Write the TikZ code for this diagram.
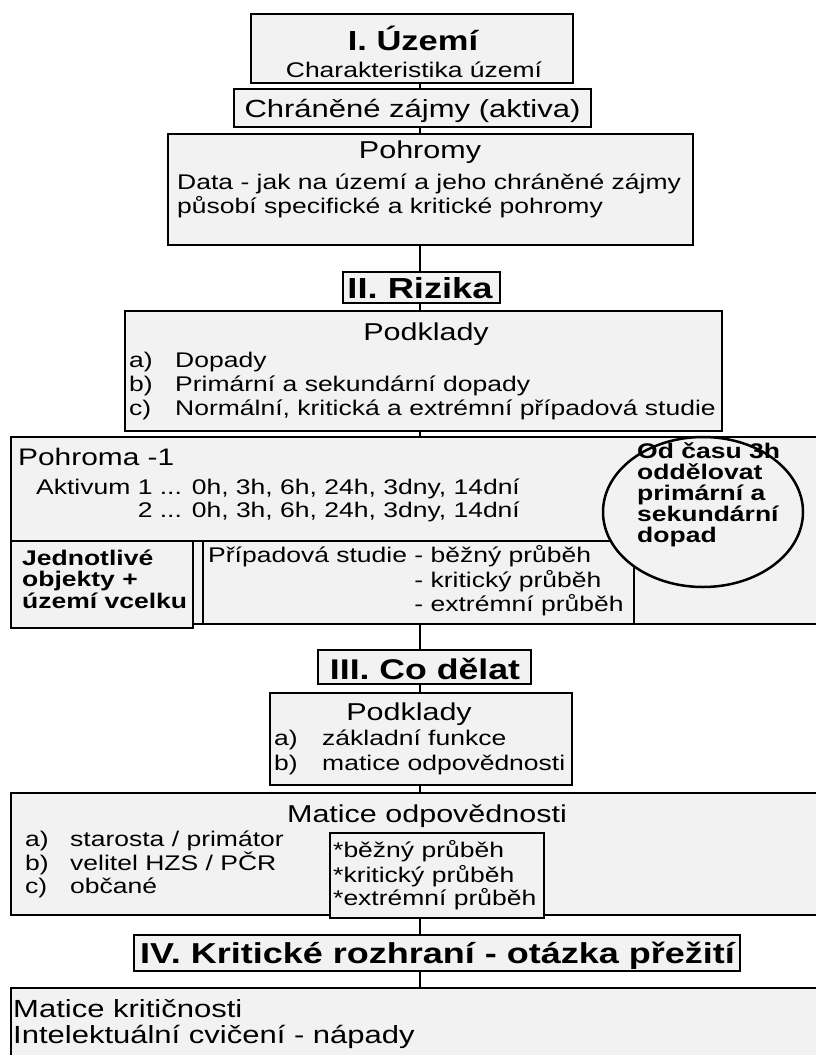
\documentclass[tikz,border=0pt]{standalone}
\usepackage{fontspec}
\setmainfont{Liberation Sans}[FakeStretch=1.25]
\usepackage{tikz}
\usetikzlibrary{calc}
\usetikzlibrary{shapes.geometric}
\definecolor{boxfill}{HTML}{F2F2F2}
\newcommand{\mkbox}[5]{\node[box, minimum width={(#4)-(#2)}, minimum height={(#5)-(#3)}] (#1) at (#2,#3) {};}
\tikzset{
    box/.style={draw, line width=2.5pt, fill=boxfill, anchor=north west, inner sep=0pt, outer sep=0pt},
    link/.style={line width=2.5pt},
    txt/.style={anchor=base west, inner sep=0pt, font=\fontsize{21.2}{22}\selectfont},
    ctxt/.style={txt, anchor=base},
    bld/.style={txt, font=\bfseries\fontsize{21.2}{22}\selectfont},
    sub/.style={ctxt, font=\fontsize{24.4}{25}\selectfont},
    ttl/.style={anchor=base, inner sep=0pt, font=\bfseries\fontsize{28.5}{29}\selectfont}
}

\begin{document}
\begin{tikzpicture}[x=1pt, y=-1pt]
        \useasboundingbox (0,0) rectangle (815,1055);
        \coordinate (spine) at (420,0);
    %boxes
        \mkbox{uzemi}{251}{14}{573}{83}
        \mkbox{aktiva}{234}{89}{591}{127}
        \mkbox{pohromy}{168}{134}{693}{245}
        \mkbox{rizika}{343}{272}{500}{303}
        \mkbox{podklady}{125}{311}{722}{431}
        \mkbox{pohroma}{11}{437}{830}{624}
        \mkbox{jednotl}{11}{541}{193}{628}
        \mkbox{pripad}{203}{541}{634}{624}
        \draw[link] (jednotl.north west) -- (pripad.north east);
        \node[draw, ellipse, line width=2.5pt, fill=boxfill, minimum width=200pt, minimum height=150pt, inner sep=0pt, outer sep=0pt] (oddel) at (703,512) {};
        \mkbox{codelat}{318}{650}{531}{684}
        \mkbox{podklady2}{270}{693}{572}{785}
        \mkbox{matice}{11}{793}{830}{915}
        \mkbox{prubeh}{330}{833}{544}{918}
        \mkbox{rozhrani}{134}{935}{740}{971}
        \mkbox{kriticnost}{11}{988}{830}{1070}
    %links
        \foreach \a/\b in {uzemi/aktiva, aktiva/pohromy, pohromy/rizika, rizika/podklady, podklady/pohroma, pripad/codelat, codelat/podklady2, podklady2/matice, prubeh/rozhrani, rozhrani/kriticnost}
            \draw[link] (\a.south -| spine) -- (\b.north -| spine);
    %I
        \node[ttl, font=\bfseries\fontsize{27.6}{28}\selectfont] (t1) at (413,50) {I. Území};
        \node[ctxt] (t1a) at (414,77) {Charakteristika území};
        \node[ctxt, font=\fontsize{24.8}{25}\selectfont] (t1b) at (412.5,117) {Chráněné zájmy (aktiva)};
        \node[sub] (t1c) at (420,158) {Pohromy};
        \node[txt] (t1d) at (177,189) {Data - jak na území a jeho chráněné zájmy};
        \node[txt] (t1e) at (177,213) {působí specifické a kritické pohromy};
    %II
        \node[ttl, font=\bfseries\fontsize{29}{29}\selectfont] (t2) at (420,298) {II. Rizika};
        \node[sub] (t2a) at (426,340) {Podklady};
        \foreach \l/\t/\y in {a)/Dopady/367, b)/Primární a sekundární dopady/391, c)/{Normální, kritická a extrémní případová studie}/415} {
            \node[txt] at (129,\y) {\l};
            \node[txt] at (175,\y) {\t};}
        \node[txt, font=\fontsize{23.9}{24}\selectfont] (t2b) at (18,465) {Pohroma -1};
        \node[txt] (t2c) at (36,494) {Aktivum 1 ... 0h, 3h, 6h, 24h, 3dny, 14dní};
        \node[txt] (t2d) at (36,517) {\hphantom{Aktivum }2 ... 0h, 3h, 6h, 24h, 3dny, 14dní};
        \foreach \t/\y in {Od času 3h/458, oddělovat/479, primární a/500, sekundární/521, dopad/542}
            \node[bld] at (637,\y) {\t};
        \foreach \t/\y in {Jednotlivé/565, objekty +/586, území vcelku/608}
            \node[bld] at (22,\y) {\t};
        \node[txt] (t2e) at (208,562) {Případová studie - běžný průběh};
        \node[txt] (t2f) at (208,587) {\hphantom{Případová studie }- kritický průběh};
        \node[txt] (t2g) at (208,611) {\hphantom{Případová studie }- extrémní průběh};
    %III
        \node[ttl] (t3) at (425,679) {III. Co dělat};
        \node[sub] (t3a) at (409,720) {Podklady};
        \foreach \l/\t/\y in {a)/základní funkce/745, b)/matice odpovědnosti/770} {
            \node[txt] at (274,\y) {\l};
            \node[txt] at (322,\y) {\t};}
        \node[sub] (t3b) at (427,822) {Matice odpovědnosti};
        \foreach \l/\t/\y in {a)/{starosta / primátor}/846, b)/{velitel HZS / PČR}/870, c)/občané/893} {
            \node[txt] at (25,\y) {\l};
            \node[txt] at (70,\y) {\t};}
        \foreach \t/\y in {*běžný průběh/857, *kritický průběh/882, *extrémní průběh/905}
            \node[txt] at (333,\y) {\t};
    %IV
        \node[ttl, font=\bfseries\fontsize{28.8}{29}\selectfont] (t4) at (437.5,963) {IV. Kritické rozhraní - otázka přežití};
        \node[txt, font=\fontsize{24.8}{25}\selectfont] (t4a) at (13,1017) {Matice kritičnosti};
        \node[txt, font=\fontsize{24.8}{25}\selectfont] (t4b) at (13,1043) {Intelektuální cvičení - nápady};
        \end{tikzpicture}
\end{document}
